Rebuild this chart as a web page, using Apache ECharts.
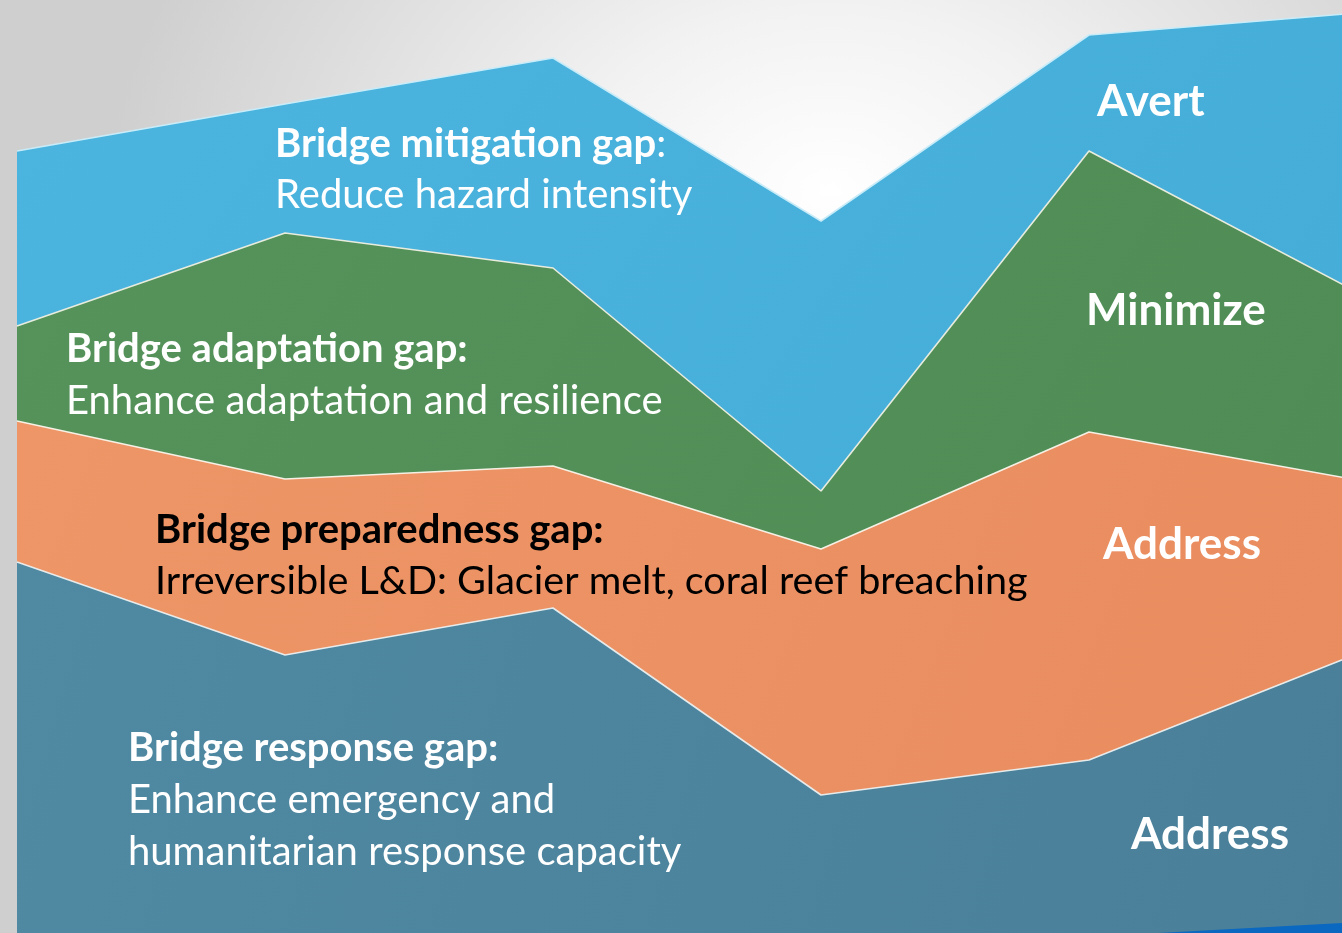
<!DOCTYPE html>
<html>
<head>
<meta charset="utf-8">
<script src="https://cdn.jsdelivr.net/npm/echarts@6/dist/echarts.min.js"></script>
<style>
  html, body { margin: 0; padding: 0; }
  #chart {
    width: 1342px; height: 933px;
    background: radial-gradient(ellipse 720px 520px at 830px 190px, #ffffff 0%, #f2f2f2 35%, #dcdcdc 75%, #cfcfcf 100%);
  }
</style>
</head>
<body>
<div id="chart"></div>
<script>
// Six evenly spaced stations; the sixth lies just beyond the right edge
const stations = [0, 1, 2, 3, 4, 5];

// Thickness of each stacked band (bottom to top)
const responseGap     = [371, 278, 325, 138, 173, 279];
const preparednessGap = [141, 176, 142, 246, 328, 174];
const adaptationGap   = [ 95, 246, 198,  58, 281, 188];
const mitigationGap   = [175, 129, 210, 270, 116, 279];

const FONT = 'Lato, "Open Sans", sans-serif';

// Running totals give the upper edge of each band
function addBands(a, b) {
  return a.map(function (v, i) { return v + b[i]; });
}
const responseTop     = responseGap.slice();
const preparednessTop = addBands(responseTop, preparednessGap);
const adaptationTop   = addBands(preparednessTop, adaptationGap);
const mitigationTop   = addBands(adaptationTop, mitigationGap);

function pairs(values) {
  return values.map(function (v, i) { return [stations[i], v]; });
}

// Each band is filled down to the baseline; lower bands are painted over it
function band(name, top, c1, c2, edge) {
  return {
    name: name,
    type: 'line',
    data: pairs(top),
    symbol: 'none',
    smooth: false,
    clip: true,
    lineStyle: { color: edge, width: 1.6 },
    areaStyle: {
      opacity: 1,
      origin: 'start',
      color: new echarts.graphic.LinearGradient(0, 0, 1, 1, [
        { offset: 0, color: c1 },
        { offset: 1, color: c2 }
      ])
    },
    emphasis: { disabled: true },
    silent: true
  };
}

function txt(x, y, text, size, weight, fill) {
  return {
    type: 'text', x: x, y: y, z: 100, silent: true,
    style: {
      text: text, fill: fill,
      font: weight + ' ' + size + 'px ' + FONT,
      textAlign: 'left', textVerticalAlign: 'middle'
    }
  };
}

const chart = echarts.init(document.getElementById('chart'), null, { renderer: 'canvas' });

chart.setOption({
  backgroundColor: 'transparent',
  animation: false,
  grid: { left: 17, right: 0, top: 0, bottom: 0 },
  xAxis: {
    type: 'value', min: 0, max: 4.944, show: false, splitLine: { show: false }
  },
  yAxis: {
    type: 'value', min: 0, max: 933, show: false, splitLine: { show: false }
  },
  series: [
    band('Mitigation gap', mitigationTop, '#4cb5df', '#43abd6', '#c9ecf9'),
    band('Adaptation gap', adaptationTop, '#55935b', '#4f8c55', 'rgba(240,240,225,0.95)'),
    band('Preparedness gap', preparednessTop, '#ee9667', '#e98c5f', 'rgba(250,245,235,0.95)'),
    band('Response gap', responseTop, '#4f89a2', '#4a7f99', 'rgba(235,240,240,0.95)')
  ],
  graphic: [
    {
      type: 'polygon', silent: true, z: 100,
      shape: { points: [[1140, 934], [1342, 923], [1342, 934]] },
      style: { fill: '#0b68c1' }
    },
    {
      type: 'text', x: 275, y: 144, z: 100, silent: true,
      style: {
        text: '{b|Bridge mitigation gap}{r|:}',
        fill: '#ffffff', textVerticalAlign: 'middle',
        rich: {
          b: { font: 'bold 40px ' + FONT, fill: '#ffffff' },
          r: { font: 'normal 40px ' + FONT, fill: '#ffffff' }
        }
      }
    },
    txt(275, 195, 'Reduce hazard intensity', 40, 'normal', '#ffffff'),
    txt(66, 349, 'Bridge adaptation gap:', 40, 'bold', '#ffffff'),
    txt(66, 401, 'Enhance adaptation and resilience', 40, 'normal', '#ffffff'),
    txt(155, 530, 'Bridge preparedness gap:', 40, 'bold', '#000000'),
    txt(155, 581, 'Irreversible L&D: Glacier melt, coral reef breaching', 39.6, 'normal', '#000000'),
    txt(128, 748, 'Bridge response gap:', 40, 'bold', '#ffffff'),
    txt(128, 800, 'Enhance emergency and', 40, 'normal', '#ffffff'),
    txt(128, 852, 'humanitarian response capacity', 40, 'normal', '#ffffff'),
    txt(1097, 102, 'Avert', 44, 'bold', '#ffffff'),
    txt(1086, 311, 'Minimize', 44, 'bold', '#ffffff'),
    txt(1103, 545, 'Address', 44, 'bold', '#ffffff'),
    txt(1131, 835, 'Address', 44, 'bold', '#ffffff')
  ]
});
</script>
</body>
</html>
